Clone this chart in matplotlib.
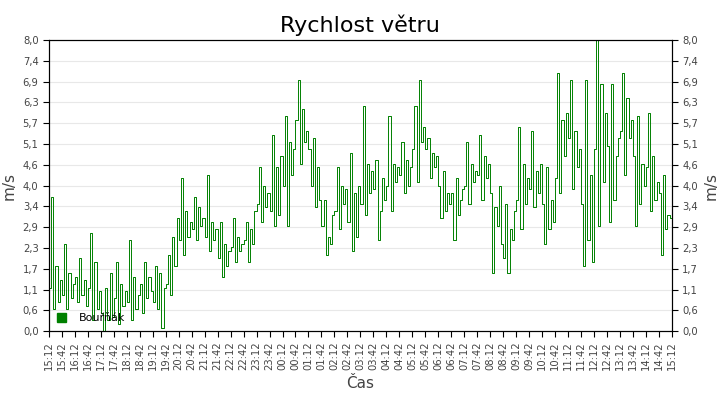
import numpy as np
import matplotlib
matplotlib.use("Agg")
import matplotlib.pyplot as plt
from matplotlib.patches import Patch

# wind speed [m/s], one value per 5 minutes, starting 15:12
speed = [
    1.2, 3.7, 0.6, 1.8, 0.8, 1.4,  1.0, 2.4, 0.6, 1.6, 0.9, 1.3,
    1.5, 0.8, 2.0, 1.0, 1.4, 0.7,  1.2, 2.7, 0.3, 1.9, 0.6, 1.1,
    0.5, 0.0, 1.2, 0.3, 1.6, 0.4,  0.9, 1.9, 0.2, 1.3, 0.7, 1.1,
    0.8, 2.5, 0.3, 1.5, 0.6, 1.0,  1.3, 0.5, 1.9, 0.9, 1.5, 1.1,
    0.8, 1.8, 0.6, 1.6, 0.1, 1.2,  1.3, 2.1, 1.0, 2.6, 1.8, 3.1,
    2.5, 4.2, 2.1, 3.3, 2.6, 3.0,  2.8, 3.7, 2.5, 3.4, 2.9, 3.1,
    2.6, 4.3, 2.2, 3.0, 2.5, 2.8,  2.0, 3.0, 1.5, 2.4, 1.8, 2.2,
    2.3, 3.1, 1.9, 2.6, 2.2, 2.4,  2.5, 3.0, 1.9, 2.8, 2.4, 3.3,
    3.5, 4.5, 3.0, 4.0, 3.4, 3.8,  3.3, 5.4, 2.9, 4.5, 3.2, 4.8,
    4.0, 5.9, 2.9, 5.2, 4.3, 5.0,  5.8, 6.9, 4.6, 6.1, 5.2, 5.5,
    5.0, 4.0, 5.3, 3.4, 4.5, 3.6,  2.9, 3.6, 2.1, 2.6, 2.4, 3.2,
    3.3, 4.5, 2.8, 4.0, 3.5, 3.9,  3.0, 4.9, 2.2, 3.8, 2.6, 4.0,
    3.5, 6.2, 3.2, 4.6, 3.8, 4.4,  3.9, 4.7, 2.5, 3.3, 4.2, 3.6,
    4.0, 5.9, 3.3, 4.6, 4.1, 4.5,  4.3, 5.2, 3.8, 4.7, 4.0, 4.5,
    5.0, 6.2, 4.1, 6.9, 5.2, 5.6,  5.0, 5.3, 4.2, 4.9, 4.5, 4.8,
    4.0, 3.1, 4.4, 3.3, 3.8, 3.5,  3.8, 2.5, 4.2, 3.2, 3.6, 3.9,
    4.0, 5.2, 3.5, 4.6, 4.1, 4.4,  4.3, 5.4, 3.6, 4.8, 4.2, 4.6,
    3.8, 1.6, 3.4, 2.9, 4.0, 2.4,  2.0, 3.5, 1.6, 2.8, 2.5, 3.3,
    3.6, 5.6, 2.8, 4.6, 3.5, 4.2,  3.9, 5.5, 3.4, 4.4, 3.8, 4.6,
    3.5, 2.4, 4.5, 2.8, 3.6, 3.0,  4.2, 7.1, 3.8, 5.8, 4.8, 6.0,
    5.3, 6.9, 3.9, 5.5, 4.5, 5.0,  3.5, 1.8, 6.9, 2.5, 4.3, 1.9,
    5.0, 8.0, 2.9, 6.8, 4.1, 6.0,  5.1, 3.0, 6.8, 3.6, 4.8, 5.3,
    5.5, 7.1, 4.3, 6.4, 5.3, 5.8,  4.8, 2.9, 5.9, 3.5, 4.6, 4.0,
    4.5, 6.0, 3.3, 4.8, 3.6, 4.1,  3.8, 2.1, 4.3, 2.8, 3.2, 3.1,
]
start_min = 15 * 60 + 12
step_min = 5
station = "Bouřňák"

GREEN = "#008000"

minutes = np.arange(len(speed) + 1) * step_min
values = speed + [speed[-1]]

fig, ax = plt.subplots(figsize=(7.2, 4.0), dpi=100)
fig.subplots_adjust(left=0.068, right=0.933, top=0.9, bottom=0.172)

ax.plot(minutes, values, drawstyle="steps-post", color=GREEN, linewidth=0.7)

yticks = np.linspace(0, 8, 15)
ax.set_ylim(0, 8)
ax.set_yticks(yticks)
ax.set_yticklabels([f"{v:.1f}".replace(".", ",") for v in yticks])
ax.grid(axis="y", color="#e8e8e8", linewidth=0.8)
ax.set_axisbelow(True)

xticks = np.arange(0, 24 * 60 + 1, 30)
ax.set_xlim(0, 24 * 60)
ax.set_xticks(xticks)
ax.set_xticklabels([f"{((start_min + t) // 60) % 24:02d}:{(start_min + t) % 60:02d}"
                    for t in xticks], rotation=90)
ax.tick_params(labelsize=7.2, colors="black", labelcolor="#444444", length=4)

ax2 = ax.twinx()
ax2.set_ylim(0, 8)
ax2.set_yticks(yticks)
ax2.set_yticklabels([f"{v:.1f}".replace(".", ",") for v in yticks])
ax2.tick_params(labelsize=7.2, labelcolor="#444444", length=4)
ax2.set_ylabel("m/s", fontsize=11, color="#444444")

ax.set_ylabel("m/s", fontsize=11, color="#444444")
ax.set_xlabel("Čas", fontsize=11, color="#444444")
ax.set_title("Rychlost větru", fontsize=16)

ax.legend(handles=[Patch(color=GREEN, label=station)], loc="lower left",
          frameon=False, fontsize=8, handlelength=0.8, handleheight=0.8,
          borderaxespad=0.3, handletextpad=1.2)

fig.savefig("out.png", dpi=100)
